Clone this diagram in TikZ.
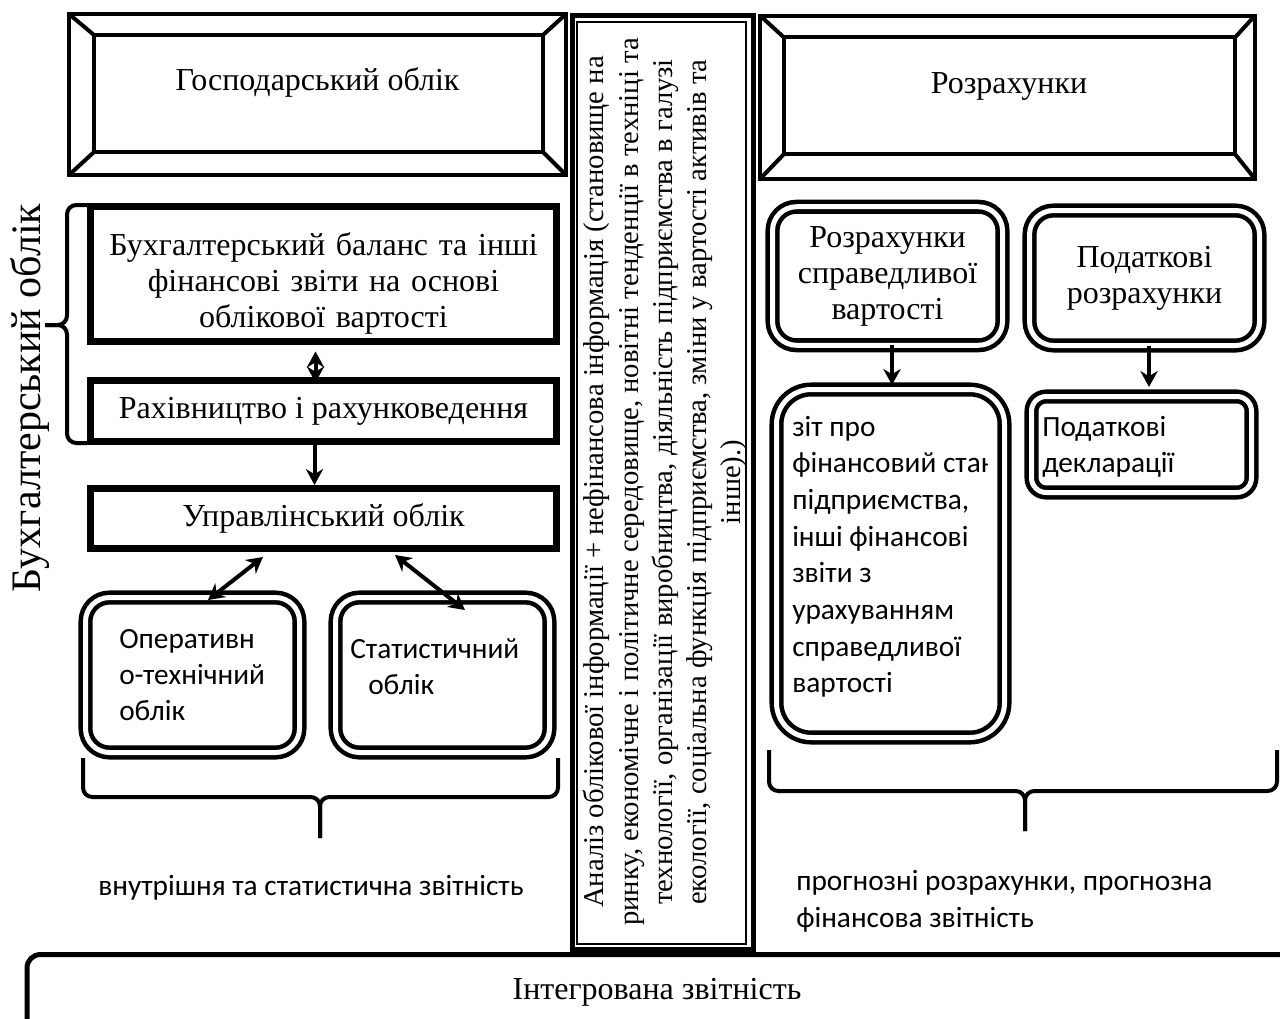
\documentclass[tikz,border=0pt]{standalone}
\usepackage{fontspec}
\setmainfont{Liberation Serif}
\newfontfamily\calfont{Carlito}
\usetikzlibrary{positioning,arrows.meta,calc}

\newcommand{\tnr}{\fontsize{24}{27}\selectfont}
\newcommand{\clb}{\calfont\fontsize{22}{27}\selectfont}

\tikzset{
  bevel/.style={draw, line width=3pt, inner sep=0pt, outer sep=0pt},
  sqbox/.style={draw, line width=5pt, inner sep=0pt, outer sep=0pt, font=\tnr},
  dbox/.style={draw, line width=3.4pt, double, double distance=3.75pt, inner sep=0pt,
    outer sep=0pt, rounded corners=#1, align=center, font=\tnr},
  dbox/.default=18pt,
  arr/.style={line width=3pt, -{Stealth[length=12pt,width=13pt]}},
  arrs/.style={line width=3pt, {Stealth[length=12pt,width=13pt]}-{Stealth[length=12pt,width=13pt]}},
  brc/.style={line width=3pt, rounded corners=7pt},
  ctxt/.style={font=\clb, align=flush left, inner sep=0pt, anchor=base west},
}

\begin{document}
\begin{tikzpicture}[x=0.75pt, y=-0.75pt]
  \useasboundingbox (0,0) rectangle (1280,1018);

  % left column
  \node[bevel, minimum width=372.75pt, minimum height=120.75pt] (gosp) at (317.5,94.5) {};
  \node[bevel, minimum width=336.75pt, minimum height=87.75pt] (gospin) at (318.5,93.5) {};
  \foreach \a in {north west,north east,south west,south east}
    \draw[line width=3pt] (gosp.\a) -- (gospin.\a);
  \node[anchor=base, font=\tnr, inner sep=0pt] (gospt) at (317.5,90) {Господарський облік};

  \node[sqbox, minimum width=349.5pt, minimum height=101.25pt] (buh) at (323.5,274) {};
  \node[font=\tnr, align=center, text width=345pt, inner sep=0pt, anchor=base] (buht) at (323.5,255)
    {Бухгалтерський баланс та інші\\фінансові звіти на основі\\облікової вартості};
  \node[sqbox, minimum width=349.5pt, minimum height=45.75pt] (rah) at (323.5,411) {Рахівництво і рахунковедення};
  \node[sqbox, minimum width=349.5pt, minimum height=45pt] (upr) at (323.5,518.5) {Управлінський облік};

  \draw[brc] (87,205) -| (67,325) -- (45,325);
  \draw[brc] (87,443) -| (67,325) -- (45,325);
  \node[rotate=90, font=\fontsize{31.5}{34}\selectfont, inner sep=0pt] (buhl) at (30,398) {Бухгалтерський облік};

  \node[dbox=18pt, minimum width=160.5pt, minimum height=116.25pt] (oper) at (192.5,675) {};
  \node[dbox=18pt, minimum width=160.5pt, minimum height=116.25pt] (stat) at (442.5,675) {};
  \node[ctxt, text width=135pt] (opert) at (119,648) {Оперативн\\о-технічний\\облік};
  \node[ctxt, text width=135pt] (statt) at (350,658) {Статистичний\\\hspace*{13.5pt}облік};

  \draw[arrs] ($(rah.north)+(-8,2)$) -- ($(buh.south)+(-8,10)$);
  \draw[arr] ($(rah.south)+(-9,0)$) -- ($(upr.north)+(-9,-3.5)$);
  \draw[arrs] ($(upr.south)+(-60.5,8.5)$) -- ($(oper.north)+(15.5,2.5)$);
  \draw[arrs] ($(upr.south)+(71.5,6.5)$) -- ($(stat.north)+(22.5,12.5)$);

  \draw[brc] (83,758) |- (320,797) -- (320,838);
  \draw[brc] (558,758) |- (320,797) -- (320,838);
  \node[ctxt] (vnt) at (98,895) {внутрішня та статистична звітність};

  % middle column
  \node[draw, line width=3.75pt, minimum width=135.75pt, minimum height=700.5pt, inner sep=0pt] (col) at (663,482.5) {};
  \node[draw, line width=1.5pt, minimum width=126.4pt, minimum height=691.5pt, inner sep=0pt] (colin) at (661.75,483) {};
  \node[rotate=90, font=\fontsize{21.5}{25.6}\selectfont, align=center, inner sep=0pt] (colt) at (665,482)
    {Аналіз облікової інформації + нефінансова інформація (становище на\\
     ринку, економічне і політичне середовище, новітні тенденції в техніці та\\
     технології, організації виробництва, діяльність підприємства в галузі\\
     екології, соціальна функція підприємства, зміни у вартості активів та\\
     інше).)};

  % right column
  \node[bevel, minimum width=371.25pt, minimum height=122.6pt] (razr) at (1007.5,97.25) {};
  \node[bevel, minimum width=338.25pt, minimum height=87.4pt] (razrin) at (1009.5,95.75) {};
  \foreach \a in {north west,north east,south west,south east}
    \draw[line width=3pt] (razr.\a) -- (razrin.\a);
  \node[anchor=base, font=\tnr, inner sep=0pt] (razrt) at (1009,93) {Розрахунки};

  \node[dbox=18pt, minimum width=172.5pt, minimum height=103.9pt] (rsv) at (887.5,276) {Розрахунки\\справедливої\\вартості};
  \node[dbox=18pt, minimum width=172.5pt, minimum height=101.25pt] (pr) at (1144.5,278) {Податкові\\розрахунки};
  \node[dbox=26pt, minimum width=171pt, minimum height=261pt] (zvit) at (890.5,563.5) {};
  \node[dbox=11pt, minimum width=165pt, minimum height=72pt] (pd) at (1141.5,444.5) {};

  \draw[arr] ($(rsv.south)+(4.5,0)$) -- ($(zvit.north)+(1.5,-4.5)$);
  \draw[arr] ($(pr.south)+(4.5,0)$) -- ($(pd.north)+(7.5,-9.5)$);

  \begin{scope}
    \clip (785,395) rectangle (987,732);
    \node[ctxt, text width=220pt, font=\calfont\fontsize{22}{27.5}\selectfont] (zvitt) at (792,436)
      {зіт про\\фінансовий стан\\підприємства,\\інші фінансові\\звіти з\\урахуванням\\справедливої\\вартості};
  \end{scope}
  \node[ctxt, text width=150pt] (pdt) at (1042,436) {Податкові\\декларації};

  \draw[brc] (769,750) |- (1025,791) -- (1025,831);
  \draw[brc] (1277,750) |- (1025,791) -- (1025,831);
  \node[ctxt, text width=330pt, font=\calfont\fontsize{22}{27.75}\selectfont] (prgt) at (796,890)
    {прогнозні розрахунки, прогнозна\\фінансова звітність};

  % bottom
  \node[draw, line width=3.75pt, rounded corners=10pt, minimum width=969.75pt, minimum height=109.1pt, inner sep=0pt] (integr) at (673.5,1027.25) {};
  \node[anchor=base, font=\tnr, inner sep=0pt] (integrt) at (657,999) {Інтегрована звітність};
\end{tikzpicture}
\end{document}
